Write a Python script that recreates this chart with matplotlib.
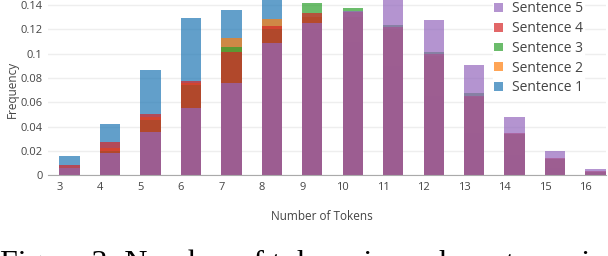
import numpy as np
import matplotlib
matplotlib.use('Agg')
import matplotlib.pyplot as plt

# token counts and per-sentence relative frequencies
tokens = [3, 4, 5, 6, 7, 8, 9, 10, 11, 12, 13, 14, 15, 16]
sentence_1 = [0.0156, 0.0426, 0.0868, 0.129, 0.1359, 0.146, 0.12, 0.11, 0.09, 0.065, 0.035, 0.017, 0.006, 0.002]
sentence_2 = [0.006, 0.0224, 0.0477, 0.076, 0.1127, 0.1288, 0.13, 0.13, 0.12, 0.098, 0.064, 0.034, 0.013, 0.003]
sentence_3 = [0.006, 0.02, 0.0458, 0.074, 0.1056, 0.12, 0.142, 0.1378, 0.1236, 0.1015, 0.0679, 0.034, 0.013, 0.003]
sentence_4 = [0.0082, 0.027, 0.0508, 0.0778, 0.1015, 0.1228, 0.1334, 0.134, 0.122, 0.0999, 0.0655, 0.0352, 0.0139, 0.0033]
sentence_5 = [0.006, 0.018, 0.036, 0.0557, 0.076, 0.109, 0.1252, 0.1353, 0.145, 0.1277, 0.091, 0.0483, 0.0196, 0.0049]

series = [sentence_1, sentence_2, sentence_3, sentence_4, sentence_5]
labels = ['Sentence 1', 'Sentence 2', 'Sentence 3', 'Sentence 4', 'Sentence 5']
colors = ['#1f77b4', '#ff7f0e', '#2ca02c', '#d62728', '#9467bd']

plt.rcParams['font.family'] = ['Open Sans', 'DejaVu Sans']
text_color = '#444444'

fig = plt.figure(figsize=(6.08, 2.56), dpi=100)
ax = fig.add_axes([48 / 608, 1 - 175.3 / 256, 558 / 608, 175.3 / 256])

# overlaid bars, later series drawn on top
bars = []
for i, (vals, lab, col) in enumerate(zip(series, labels, colors)):
    b = ax.bar(tokens, vals, width=0.5, align='edge', color=col, alpha=0.7,
               label=lab, zorder=2 + i, linewidth=0)
    bars.append(b)

ax.set_xlim(2.716, 16.51)
ax.set_ylim(0, 0.1442)
ax.set_xticks(tokens)
ax.set_yticks(np.arange(0, 0.141, 0.02))
ax.set_yticklabels(['0', '0.02', '0.04', '0.06', '0.08', '0.1', '0.12', '0.14'])
ax.tick_params(axis='both', length=0, labelsize=8, labelcolor=text_color)
ax.tick_params(axis='x', pad=5)
ax.tick_params(axis='y', pad=4)

ax.grid(axis='y', color='#eeeeee', linewidth=1, zorder=0)
ax.set_axisbelow(True)
for side in ['top', 'right', 'left']:
    ax.spines[side].set_visible(False)
ax.spines['bottom'].set_color('#aaaaaa')
ax.spines['bottom'].set_zorder(10)

fig.text(12 / 608, 1 - 89 / 256, 'Frequency', fontsize=8.5, color=text_color,
         rotation=90, ha='center', va='center')
fig.text(322 / 608, 1 - 216 / 256, 'Number of Tokens', fontsize=8.5,
         color=text_color, ha='center', va='center')

handles = [b for b in bars][::-1]
leg = ax.legend(handles, labels[::-1], loc='upper left',
                bbox_to_anchor=(493 / 608, 1.0), bbox_transform=fig.transFigure,
                frameon=True, fancybox=False, framealpha=1, edgecolor='white',
                fontsize=10, handlelength=0.6, handleheight=0.6,
                handletextpad=0.65, labelspacing=0.34, borderpad=0.1,
                borderaxespad=0)
for t in leg.get_texts():
    t.set_color(text_color)
leg.set_zorder(20)

# figure caption, cut off at the bottom in the source image
fig.text(0.0, -0.064, 'Figure 3: Number of tokens in each sentence in',
         fontsize=23, family='Liberation Serif', color='black',
         ha='left', va='baseline')

fig.savefig('out.png', dpi=100)
